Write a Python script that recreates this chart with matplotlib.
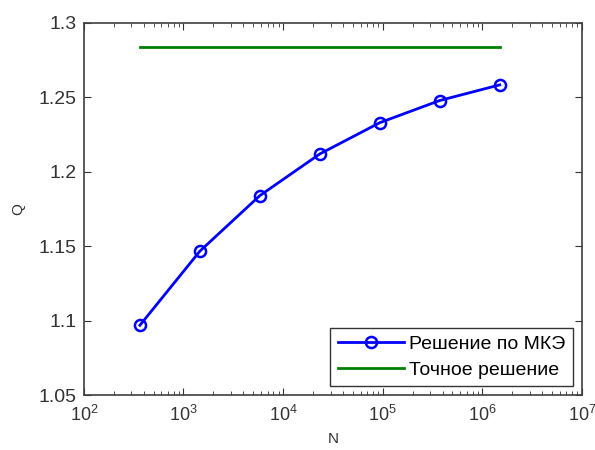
import matplotlib
matplotlib.use("Agg")
import matplotlib.pyplot as plt
import numpy as np

plt.rcParams['font.family'] = ['Liberation Sans', 'DejaVu Sans']
plt.rcParams['mathtext.fontset'] = 'custom'
plt.rcParams['mathtext.rm'] = 'Liberation Sans'
plt.rcParams['mathtext.it'] = 'Liberation Sans'

N = [365, 1460, 5840, 23360, 93440, 373760, 1495040]
Q_fem = [1.0969, 1.1467, 1.184, 1.212, 1.233, 1.2479, 1.2584]
Q_exact = [1.284, 1.284]
N_exact = [365, 1495040]
yticks = [1.05, 1.1, 1.15, 1.2, 1.25, 1.3]
ytick_labels = ['1.05', '1.1', '1.15', '1.2', '1.25', '1.3']

fig = plt.figure(figsize=(5.95, 4.5), dpi=100)
ax = fig.add_axes([0.141, 0.122, 0.837, 0.827])

ax.plot(N, Q_fem, color='#0000ff', lw=2, marker='o', ms=8, mfc='none',
        mew=1.8, label='Решение по МКЭ')
ax.plot(N_exact, Q_exact, color='#008000', lw=2, label='Точное решение')

ax.set_xscale('log')
ax.set_xlim(1e2, 1e7)
ax.set_ylim(1.05, 1.3)
ax.set_yticks(yticks)
ax.set_yticklabels(ytick_labels)
ax.tick_params(which='both', direction='in', top=True, right=True,
               labelsize=14, colors='#333333')
ax.tick_params(axis='x', which='major', pad=7, labelsize=13)
ax.tick_params(axis='y', which='major', pad=5)
ax.tick_params(which='major', length=5)
ax.tick_params(which='minor', length=3)
for s in ax.spines.values():
    s.set_color('#404040')
    s.set_linewidth(1.2)

ax.set_xlabel('N', fontsize=11, color='#333333', labelpad=5)
ax.set_ylabel('Q', fontsize=11, color='#333333', labelpad=10)

leg = ax.legend(loc='lower right', fontsize=14, fancybox=False,
                framealpha=1, edgecolor='#333333', borderaxespad=0.45,
                handlelength=3.4, handletextpad=0.25, borderpad=0.4,
                labelspacing=0.4)
leg.get_frame().set_linewidth(1)

fig.savefig('out.png', dpi=100)
